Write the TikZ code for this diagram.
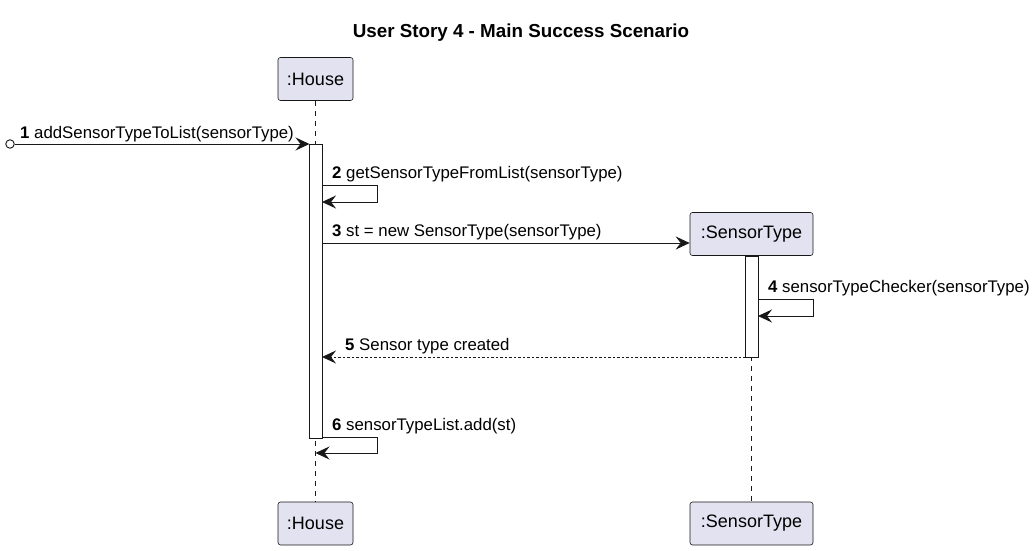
\documentclass[tikz,border=0pt]{standalone}
\usepackage{fontspec}
\setmainfont{Liberation Sans}
\usetikzlibrary{arrows.meta}
\definecolor{partfill}{HTML}{E2E2F0}
\definecolor{lineclr}{HTML}{181818}
\begin{document}
\begin{tikzpicture}[x=1pt,y=-1pt,
  part/.style={draw=lineclr,fill=partfill,rounded corners=2.5pt,line width=0.6pt,inner sep=0pt,minimum height=43pt,font=\fontsize{18}{21}\selectfont},
  life/.style={draw=lineclr,dash pattern=on 5pt off 5pt,line width=0.5pt},
  actbox/.style={draw=lineclr,fill=white,line width=0.7pt},
  msg/.style={draw=lineclr,line width=0.9pt,-{Stealth[length=14pt,width=13pt,inset=5pt]}},
  rmsg/.style={msg,dash pattern=on 2.5pt off 2pt},
  lbl/.style={anchor=base west,inner sep=0pt,font=\fontsize{16.8}{20}\selectfont}]
\useasboundingbox (0,0) rectangle (1036,551);
\fill[white] (0,0) rectangle (1036,551);
\node[font=\bfseries\fontsize{18.8}{22}\selectfont] (title) at (521,33) {User Story 4 - Main Success Scenario};
% participants
\node[part,minimum width=75pt] (h1) at (315.5,79) {:House};
\node[part,minimum width=75pt] (h2) at (315.5,523.5) {:House};
\node[part,minimum width=123pt] (s1) at (751.5,234) {:SensorType};
\node[part,minimum width=123pt] (s2) at (751.5,523.5) {:SensorType};
% lifelines
\draw[life] (h1.south) -- (h2.north);
\draw[life] (s1.south) -- (s2.north);
% activations
\draw[actbox] (309.5,144) rectangle (322,438);
\draw[actbox] (745.5,256) rectangle (758,357);
\coordinate (hact) at (309.5,144);
% message 1
\node[draw=lineclr,line width=0.9pt,circle,inner sep=0pt,minimum size=8.5pt,fill=white] (start) at (10,144) {};
\draw[msg] (start.east) -- (hact);
\node[lbl] (l1) at (20,138) {\textbf{1} addSensorTypeToList(sensorType)};
% message 2
\coordinate (m2a) at (322,185);
\coordinate (m2b) at (322,202);
\draw[msg] (m2a) -- (377,185) -- (377,202) -- (m2b);
\node[lbl] (l2) at (332,178) {\textbf{2} getSensorTypeFromList(sensorType)};
% message 3
\coordinate (m3a) at (322,243);
\draw[msg] (m3a) -- (s1.west |- m3a);
\node[lbl] (l3) at (332,236) {\textbf{3} st = new SensorType(sensorType)};
% message 4
\coordinate (m4a) at (758,299);
\coordinate (m4b) at (758,316);
\draw[msg] (m4a) -- (813,299) -- (813,316) -- (m4b);
\node[lbl] (l4) at (768,292) {\textbf{4} sensorTypeChecker(sensorType)};
% message 5
\coordinate (m5a) at (745.5,357);
\coordinate (m5b) at (322,357);
\draw[rmsg] (m5a) -- (m5b);
\node[lbl] (l5) at (345,350) {\textbf{5} Sensor type created};
% message 6
\coordinate (m6a) at (322,437);
\coordinate (m6b) at (315.5,453);
\draw[msg] (m6a) -- (377,437) -- (377,453) -- (m6b);
\node[lbl] (l6) at (332,430) {\textbf{6} sensorTypeList.add(st)};
\end{tikzpicture}
\end{document}
